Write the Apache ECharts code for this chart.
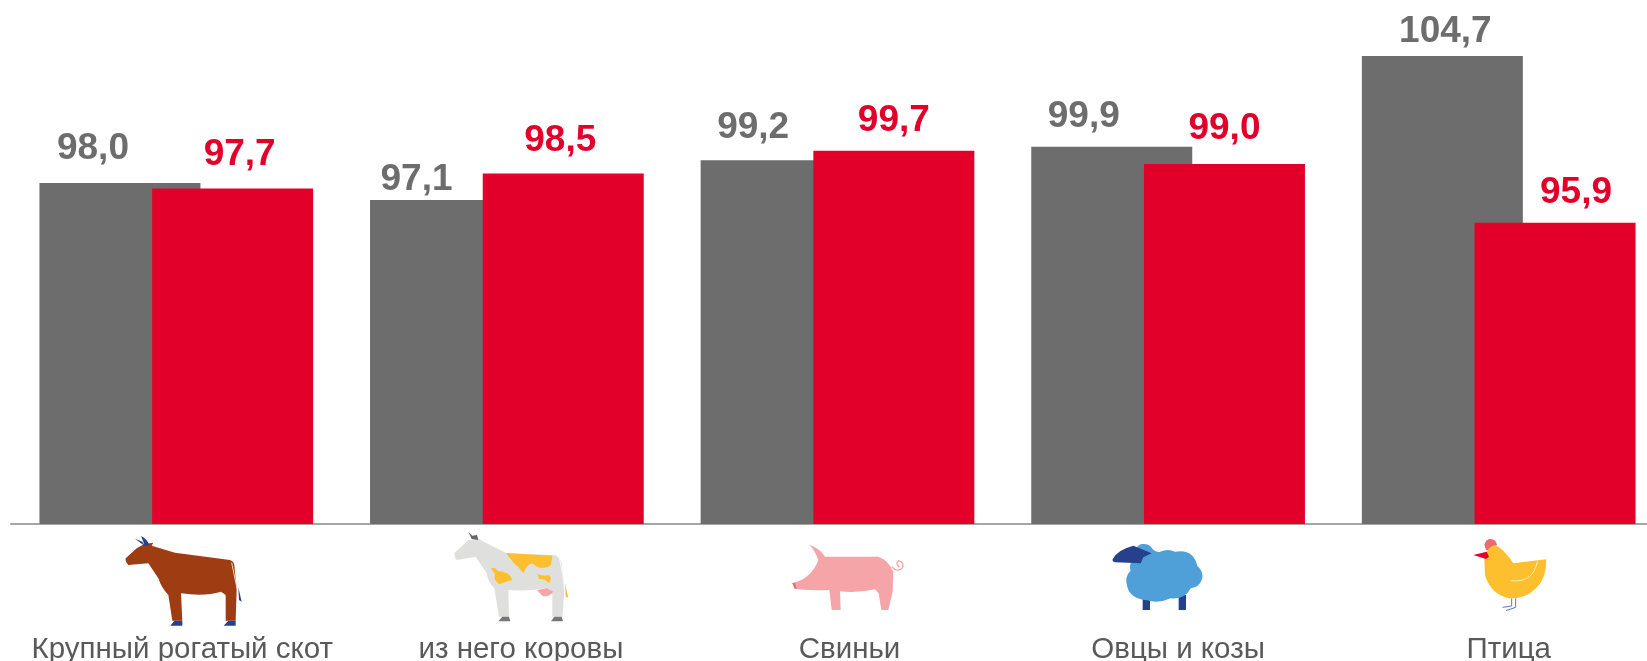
<!DOCTYPE html>
<html>
<head>
<meta charset="utf-8">
<style>
  html, body { margin: 0; padding: 0; background: #fff; }
  #main { width: 1647px; height: 661px; }
</style>
</head>
<body>
<div id="main"></div>
<script src="https://cdn.jsdelivr.net/npm/echarts@6/dist/echarts.min.js"></script>
<script>
const categories = ['Крупный рогатый скот', 'из него коровы', 'Свиньи', 'Овцы и козы', 'Птица'];
const greyValues = [98.0, 97.1, 99.2, 99.9, 104.7];
const redValues = [97.7, 98.5, 99.7, 99.0, 95.9];

// сдвиг подписей относительно столбцов
const greyLabelOffsets = [[-27, -16], [-34, -2], [-28, -14], [-28, -12], [3, -6]];
const redLabelOffsets = [[7, -15], [-3, -14], [0, -11], [0, -17], [21, -11]];
const categoryShift = [6, 14, 12, 10, 10];

const GREY = '#6d6d6d';
const RED = '#e2002b';
const FONT = '"Liberation Sans", Arial, sans-serif';

function withLabels(values, offsets) {
  return values.map((v, i) => ({ value: v, label: { offset: offsets[i] } }));
}

let shapeCount = 0;
function icon(x, y, parts) {
  return {
    type: 'group', x: x, y: y, scaleX: 1 / 3, scaleY: 1 / 3, silent: true,
    children: parts.map(p => {
      const name = 'iconPart' + (shapeCount++);
      echarts.graphic.registerShape(name, echarts.graphic.extendPath(p[0], {}));
      return {
        type: name,
        style: p[2] ? { fill: 'none', stroke: p[1], lineWidth: p[2] } : { fill: p[1] }
      };
    })
  };
}

const graphics = [
  icon(115, 530, [
    ['M32 85 L65 55 L88 42 L115 38 L110 47 L180 68 L345 90 Q357 95 358 105 L365 180 L362 272 L332 272 L332 195 L318 185 Q270 200 198 190 L202 272 L172 272 L160 195 Q140 175 130 145 L100 100 L40 105 Q30 95 32 85 Z', '#a03c12'],
    ['M60 26 L82 35 L90 48 L78 40 Z M78 18 Q95 25 103 45 L90 48 Z', '#27408b'],
    ['M370 172 L380 215 L372 210 Z', '#27408b'],
    ['M166 287 L178 272 L202 272 L202 287 Z M326 287 L340 272 L362 272 L362 287 Z', '#27408b'],
    ['M350 98 L366 175', '#f3ddd0', 3]
  ]),
  icon(445, 525, [
    ['M28 85 L70 45 L105 42 L110 47 L185 85 L330 90 Q345 95 350 115 L358 200 L352 275 L322 275 L322 210 L300 190 Q250 200 190 195 L192 275 L162 275 L148 190 Q130 175 125 145 L92 95 L35 105 Q27 95 28 85 Z', '#dfdfdd'],
    ['M183 84 L322 92 L318 120 Q300 135 275 125 L262 115 Q245 118 235 145 Q222 125 207 115 Z', '#fdbf2d'],
    ['M138 130 Q150 125 158 138 Q195 140 202 165 Q180 170 165 178 Q145 170 150 148 Z', '#fdbf2d'],
    ['M278 148 Q295 155 312 150 Q322 160 312 175 Q300 160 282 162 Z', '#fdbf2d'],
    ['M276 195 L305 190 L325 200 Q310 218 292 212 Z', '#f5a5a7'],
    ['M160 289 L172 275 L192 275 L196 289 Z M318 289 L328 275 L350 275 L354 289 Z', '#777777'],
    ['M70 20 L82 32 L96 30 L100 45 L80 42 Z', '#666666'],
    ['M360 175 L370 218 L362 215 Z', '#fdbf2d'],
    ['M343 98 L358 175', '#f7f7f7', 3]
  ]),
  icon(780, 530, [
    ['M37 160 Q95 145 115 90 Q105 60 87 44 Q120 55 135 80 L295 80 Q325 90 340 125 L338 185 L325 240 L304 240 L296 190 L285 178 Q230 190 180 184 L182 240 L155 240 L148 180 Q100 182 50 178 Q40 172 37 160 Z', '#f5a5a7'],
    ['M335 110 Q355 130 368 112 Q372 95 355 92 Q345 100 358 112', '#f5a5a7', 4],
    ['M37 160 L45 158 L50 176 L44 176 Z', '#ee6a6e']
  ]),
  icon(1100, 530, [
    ['M128 195 L150 195 L150 240 L128 240 Z M236 195 L258 195 L258 240 L236 240 Z', '#27408b'],
    ['M92 122 Q85 105 100 88 Q105 40 130 42 Q150 42 158 58 Q170 68 180 65 Q205 55 225 65 Q280 55 292 108 Q312 125 306 148 Q298 172 272 175 Q255 210 212 205 Q175 222 140 211 Q90 205 82 170 Q72 140 92 122 Z', '#4f9fd8'],
    ['M38 88 Q50 60 100 47 L155 70 L130 82 L122 100 L45 97 Q36 95 38 88 Z', '#27408b']
  ]),
  icon(1450, 530, [
    ['M185 205 L185 228 L158 232 M197 205 L197 232 L168 242', '#5b78b8', 3],
    ['M103 44 Q108 28 120 26 Q138 28 141 44 L125 60 L108 60 Z', '#ec6a6a'],
    ['M103 85 Q110 50 135 45 Q160 55 190 100 L289 88 Q290 145 258 175 Q225 208 175 205 Q120 190 105 135 Z', '#fdbf2d'],
    ['M262 94 Q250 160 182 152', '#ffeec2', 3],
    ['M70 75 L110 65 L117 80 L108 87 Z', '#e3002b']
  ])
];

const rich = {};
categoryShift.forEach((s, i) => {
  rich['c' + i] = {
    fontFamily: FONT, fontSize: 29.5, color: '#595959',
    padding: [0, 0, 0, s * 2]
  };
});

const myChart = echarts.init(document.getElementById('main'));
myChart.setOption({
  animation: false,
  backgroundColor: '#ffffff',
  grid: { left: 11, top: 0, width: 1653, height: 524, outerBoundsMode: 'none' },
  xAxis: {
    type: 'category',
    data: categories,
    axisLine: { lineStyle: { color: '#a6a6a6', width: 2 } },
    axisTick: { show: false },
    axisLabel: {
      interval: 0,
      margin: 111,
      hideOverlap: false,
      formatter: (name, i) => '{c' + i + '|' + name + '}',
      rich: rich
    }
  },
  yAxis: { type: 'value', min: 80, max: 107.65, show: false },
  series: [
    {
      type: 'bar',
      data: withLabels(greyValues, greyLabelOffsets),
      barWidth: 161,
      barGap: '-30%',
      itemStyle: { color: GREY },
      label: {
        show: true, position: 'top', distance: 0,
        fontFamily: FONT, fontSize: 37, fontWeight: 'bold', color: GREY,
        formatter: p => p.value.toFixed(1).replace('.', ',')
      }
    },
    {
      type: 'bar',
      data: withLabels(redValues, redLabelOffsets),
      barWidth: 161,
      itemStyle: { color: RED },
      label: {
        show: true, position: 'top', distance: 0,
        fontFamily: FONT, fontSize: 37, fontWeight: 'bold', color: RED,
        formatter: p => p.value.toFixed(1).replace('.', ',')
      }
    }
  ],
  graphic: { elements: graphics }
});
window.addEventListener('resize', function () {
  myChart.resize();
});
</script>
</body>
</html>
